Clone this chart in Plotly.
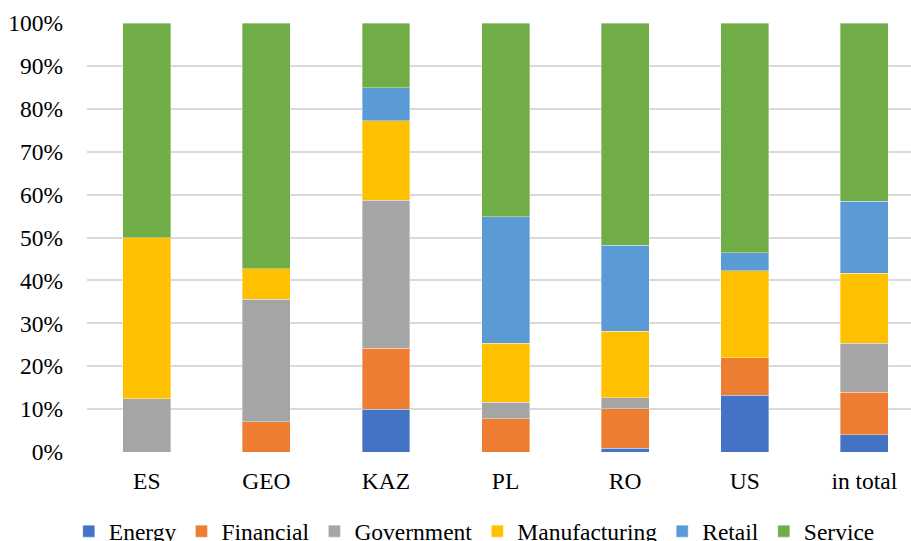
import plotly.graph_objects as go

categories = ["ES", "GEO", "KAZ", "PL", "RO", "US", "in total"]
energy        = [0.0, 0.0, 10.0, 0.0, 0.9, 13.2, 4.0]
financial     = [0.0, 7.1, 14.2, 7.7, 9.2, 8.8, 9.9]
government    = [12.4, 28.5, 34.5, 3.9, 2.5, 0.0, 11.4]
manufacturing = [37.6, 7.1, 18.5, 13.8, 15.5, 20.2, 16.4]
retail        = [0.0, 0.0, 7.7, 29.4, 20.1, 4.3, 16.7]
service       = [50.0, 57.3, 15.1, 45.2, 51.8, 53.5, 41.6]

series = [
    ("Energy", energy, "#4472C4"),
    ("Financial", financial, "#ED7D31"),
    ("Government", government, "#A5A5A5"),
    ("Manufacturing", manufacturing, "#FFC000"),
    ("Retail", retail, "#5B9BD5"),
    ("Service", service, "#70AD47"),
]

fig = go.Figure()
for name, vals, color in series:
    fig.add_trace(go.Bar(
        name=name, x=categories, y=vals,
        marker=dict(color=color, line=dict(color="rgba(255,255,255,0.6)", width=0.6)),
    ))

font = "Liberation Serif, Times New Roman, serif"
fs = 23.5
fig.update_layout(
    barmode="stack",
    bargap=0.6,
    width=911, height=541,
    margin=dict(l=86.5, r=0, t=22.7, b=88.7, autoexpand=False),
    paper_bgcolor="white", plot_bgcolor="white",
    font=dict(family=font, size=fs, color="black"),
    showlegend=True,
    legend=dict(orientation="h", x=0.47, xanchor="center", y=-0.185, yanchor="middle",
                font=dict(family=font, size=fs, color="black"),
                traceorder="normal", itemwidth=30),
    xaxis=dict(range=[-0.5, 6.39], showgrid=False, zeroline=False, showline=False,
               ticks="", ticklabelstandoff=12, tickfont=dict(family=font, size=fs)),
    yaxis=dict(range=[0, 100], dtick=10, ticksuffix="%", showgrid=True,
               gridcolor="#D9D9D9", gridwidth=1.5, zeroline=False, showline=False,
               ticks="", ticklabelstandoff=23, tickfont=dict(family=font, size=fs)),
)
fig.write_html("out.html")
